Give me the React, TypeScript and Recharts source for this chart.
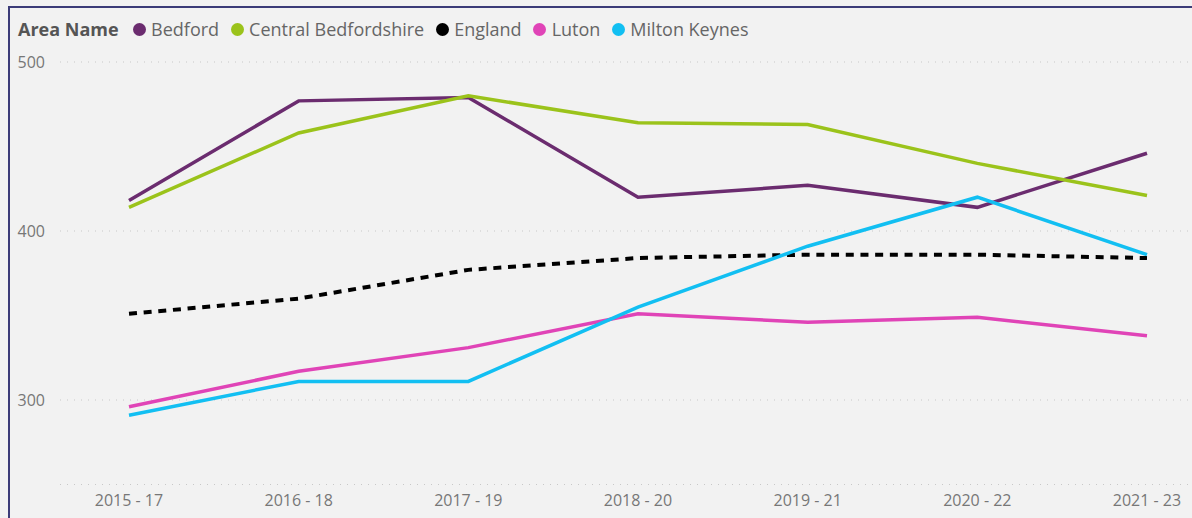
import { CartesianGrid, Line, LineChart, XAxis, YAxis } from 'recharts';

const periods = ['2015 - 17', '2016 - 18', '2017 - 19', '2018 - 20', '2019 - 21', '2020 - 22', '2021 - 23'];

const bedford = [418, 477, 479, 420, 427, 414, 446];
const centralBedfordshire = [414, 458, 480, 464, 463, 440, 421];
const england = [351, 360, 377, 384, 386, 386, 384];
const luton = [296, 317, 331, 351, 346, 349, 338];
const miltonKeynes = [291, 311, 311, 355, 391, 420, 386];

const yTicks = [300, 400, 500];

const series = [
  { key: 'bedford', name: 'Bedford', color: '#6b2c6f' },
  { key: 'central', name: 'Central Bedfordshire', color: '#9bc31b' },
  { key: 'england', name: 'England', color: '#000000' },
  { key: 'luton', name: 'Luton', color: '#e044b7' },
  { key: 'mk', name: 'Milton Keynes', color: '#12bff2' },
];

const data = periods.map((p, i) => ({
  period: p,
  bedford: bedford[i],
  central: centralBedfordshire[i],
  england: england[i],
  luton: luton[i],
  mk: miltonKeynes[i],
}));

const font = "'Open Sans', 'Noto Sans', sans-serif";

function LegendRow() {
  return (
    <div
      style={{
        position: 'absolute',
        left: 18,
        top: 16,
        display: 'flex',
        alignItems: 'center',
        fontFamily: font,
        fontSize: 18,
        lineHeight: '26px',
        color: '#666',
        whiteSpace: 'nowrap',
      }}
    >
      <span style={{ fontWeight: 700, color: '#555', marginRight: 14 }}>Area Name</span>
      {series.map((s) => (
        <span key={s.key} style={{ display: 'flex', alignItems: 'center', marginRight: 11.5 }}>
          <span
            style={{
              width: 13,
              height: 13,
              borderRadius: '50%',
              background: s.color,
              display: 'inline-block',
              marginRight: 5.5,
            }}
          />
          <span>{s.name}</span>
        </span>
      ))}
    </div>
  );
}

export default function App() {
  return (
    <div
      style={{
        position: 'fixed',
        left: 0,
        top: 0,
        width: 1192,
        height: 518,
        overflow: 'hidden',
        background: '#f2f2f2',
      }}
    >
      <div
        style={{
          position: 'absolute',
          left: 8,
          top: 6,
          width: 1250,
          height: 560,
          borderLeft: '2px solid #3c3c78',
          borderTop: '2px solid #3c3c78',
        }}
      />
      <div style={{ position: 'absolute', left: 0, top: 0 }}>
        <LineChart width={1192} height={518} data={data} margin={{ top: 62, right: 0, bottom: 0, left: 0 }}>
          <CartesianGrid horizontal vertical={false} stroke="#c8c8c8" strokeDasharray="1 6" />
          <XAxis
            dataKey="period"
            axisLine={false}
            tickLine={false}
            tickSize={0}
            tickMargin={10}
            height={33.5}
            padding={{ left: 69, right: 45 }}
            tick={{ fontSize: 16, fill: '#777', fontFamily: font }}
            interval={0}
          />
          <YAxis
            domain={[250, 500]}
            ticks={yTicks}
            axisLine={false}
            tickLine={false}
            tickSize={0}
            tickMargin={15}
            width={60}
            tick={{ fontSize: 16, fill: '#777', fontFamily: font }}
          />
          {series.map((s) => (
            <Line
              key={s.key}
              dataKey={s.key}
              name={s.name}
              type="linear"
              stroke={s.color}
              strokeWidth={s.key === 'england' ? 4 : 3.5}
              strokeDasharray={s.key === 'england' ? '8 6.7' : undefined}
              dot={false}
              activeDot={false}
              isAnimationActive={false}
            />
          ))}
        </LineChart>
      </div>
      <LegendRow />
    </div>
  );
}
